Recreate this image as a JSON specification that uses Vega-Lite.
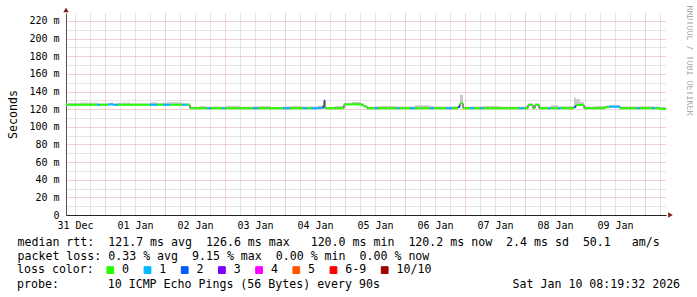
{
  "$schema": "https://vega.github.io/schema/vega-lite/v6.json",
  "width": 600,
  "height": 202,
  "padding": {"left": 7, "top": 5, "right": 0, "bottom": 0},
  "background": "white",
  "config": {"view": {"stroke": null}, "font": "DejaVu Sans Mono"},
  "title": {
    "text": "probe:\u00a0\u00a0\u00a0\u00a0\u00a0\u00a0\u00a010 ICMP Echo Pings (56 Bytes) every 90s\u00a0\u00a0\u00a0\u00a0\u00a0\u00a0\u00a0\u00a0\u00a0\u00a0\u00a0\u00a0\u00a0\u00a0\u00a0\u00a0\u00a0\u00a0\u00a0Sat Jan 10 08:19:32 2026",
    "orient": "bottom", "anchor": "start", "frame": "group", "dx": -49, "offset": 3,
    "font": "DejaVu Sans Mono", "fontSize": 11.6, "fontWeight": "normal", "color": "#000000", "baseline": "top"
  },
  "datasets": {
    "ping": [
      {"t":"2025-12-31T08:24","t2":"2025-12-31T14:00","med":0.1250,"hi":0.1268,"loss":"0"},
      {"t":"2025-12-31T14:00","t2":"2025-12-31T20:48","med":0.1250,"hi":0.1275,"loss":"0"},
      {"t":"2025-12-31T20:48","t2":"2025-12-31T22:00","med":0.1250,"hi":0.1265,"loss":"1"},
      {"t":"2025-12-31T22:00","t2":"2026-01-01T01:12","med":0.1250,"hi":0.1265,"loss":"0"},
      {"t":"2026-01-01T01:12","t2":"2026-01-01T02:24","med":0.1253,"hi":0.1270,"loss":"1"},
      {"t":"2026-01-01T02:24","t2":"2026-01-01T03:12","med":0.1256,"hi":0.1275,"loss":"1"},
      {"t":"2026-01-01T03:12","t2":"2026-01-01T05:12","med":0.1250,"hi":0.1265,"loss":"1"},
      {"t":"2026-01-01T05:12","t2":"2026-01-01T10:00","med":0.1250,"hi":0.1275,"loss":"0"},
      {"t":"2026-01-01T10:00","t2":"2026-01-01T18:00","med":0.1250,"hi":0.1265,"loss":"0"},
      {"t":"2026-01-01T18:00","t2":"2026-01-01T20:48","med":0.1250,"hi":0.1278,"loss":"1"},
      {"t":"2026-01-01T20:48","t2":"2026-01-01T23:12","med":0.1250,"hi":0.1270,"loss":"0"},
      {"t":"2026-01-01T23:12","t2":"2026-01-02T02:00","med":0.1250,"hi":0.1275,"loss":"1"},
      {"t":"2026-01-02T02:00","t2":"2026-01-02T06:48","med":0.1250,"hi":0.1278,"loss":"0"},
      {"t":"2026-01-02T06:48","t2":"2026-01-02T08:48","med":0.1250,"hi":0.1268,"loss":"1"},
      {"t":"2026-01-02T08:48","t2":"2026-01-02T10:00","med":0.1250,"hi":0.1265,"loss":"0"},
      {"t":"2026-01-02T10:00","t2":"2026-01-02T14:00","med":0.1210,"hi":0.1228,"loss":"0"},
      {"t":"2026-01-02T14:00","t2":"2026-01-02T16:48","med":0.1210,"hi":0.1235,"loss":"0"},
      {"t":"2026-01-02T16:48","t2":"2026-01-02T18:24","med":0.1210,"hi":0.1225,"loss":"1"},
      {"t":"2026-01-02T18:24","t2":"2026-01-02T22:48","med":0.1210,"hi":0.1230,"loss":"0"},
      {"t":"2026-01-02T22:48","t2":"2026-01-03T00:00","med":0.1210,"hi":0.1225,"loss":"1"},
      {"t":"2026-01-03T00:00","t2":"2026-01-03T06:00","med":0.1210,"hi":0.1238,"loss":"0"},
      {"t":"2026-01-03T06:00","t2":"2026-01-03T11:12","med":0.1210,"hi":0.1228,"loss":"0"},
      {"t":"2026-01-03T11:12","t2":"2026-01-03T13:12","med":0.1210,"hi":0.1230,"loss":"1"},
      {"t":"2026-01-03T13:12","t2":"2026-01-03T18:00","med":0.1210,"hi":0.1235,"loss":"0"},
      {"t":"2026-01-03T18:00","t2":"2026-01-03T23:12","med":0.1210,"hi":0.1225,"loss":"0"},
      {"t":"2026-01-03T23:12","t2":"2026-01-04T02:00","med":0.1210,"hi":0.1230,"loss":"1"},
      {"t":"2026-01-04T02:00","t2":"2026-01-04T07:12","med":0.1210,"hi":0.1235,"loss":"0"},
      {"t":"2026-01-04T07:12","t2":"2026-01-04T08:48","med":0.1210,"hi":0.1228,"loss":"1"},
      {"t":"2026-01-04T08:48","t2":"2026-01-04T10:24","med":0.1210,"hi":0.1230,"loss":"0"},
      {"t":"2026-01-04T10:24","t2":"2026-01-04T13:12","med":0.1210,"hi":0.1230,"loss":"1"},
      {"t":"2026-01-04T13:12","t2":"2026-01-04T14:48","med":0.1214,"hi":0.1240,"loss":"1"},
      {"t":"2026-01-04T14:48","t2":"2026-01-04T15:36","med":0.1220,"hi":0.1250,"loss":"2"},
      {"t":"2026-01-04T15:36","t2":"2026-01-04T16:00","med":0.1295,"hi":0.1310,"loss":"2"},
      {"t":"2026-01-04T16:00","t2":"2026-01-04T20:00","med":0.1210,"hi":0.1225,"loss":"0"},
      {"t":"2026-01-04T20:00","t2":"2026-01-04T23:36","med":0.1210,"hi":0.1235,"loss":"0"},
      {"t":"2026-01-04T23:36","t2":"2026-01-05T02:48","med":0.1253,"hi":0.1272,"loss":"0"},
      {"t":"2026-01-05T02:48","t2":"2026-01-05T06:24","med":0.1255,"hi":0.1280,"loss":"0"},
      {"t":"2026-01-05T06:24","t2":"2026-01-05T07:36","med":0.1245,"hi":0.1268,"loss":"0"},
      {"t":"2026-01-05T07:36","t2":"2026-01-05T08:48","med":0.1230,"hi":0.1245,"loss":"0"},
      {"t":"2026-01-05T08:48","t2":"2026-01-05T12:00","med":0.1210,"hi":0.1228,"loss":"0"},
      {"t":"2026-01-05T12:00","t2":"2026-01-05T13:12","med":0.1210,"hi":0.1230,"loss":"1"},
      {"t":"2026-01-05T13:12","t2":"2026-01-05T20:48","med":0.1210,"hi":0.1235,"loss":"0"},
      {"t":"2026-01-05T20:48","t2":"2026-01-05T22:00","med":0.1210,"hi":0.1228,"loss":"1"},
      {"t":"2026-01-05T22:00","t2":"2026-01-06T02:00","med":0.1210,"hi":0.1230,"loss":"0"},
      {"t":"2026-01-06T02:00","t2":"2026-01-06T04:00","med":0.1210,"hi":0.1230,"loss":"1"},
      {"t":"2026-01-06T04:00","t2":"2026-01-06T10:00","med":0.1210,"hi":0.1245,"loss":"0"},
      {"t":"2026-01-06T10:00","t2":"2026-01-06T11:36","med":0.1210,"hi":0.1235,"loss":"1"},
      {"t":"2026-01-06T11:36","t2":"2026-01-06T16:24","med":0.1210,"hi":0.1230,"loss":"0"},
      {"t":"2026-01-06T16:24","t2":"2026-01-06T18:48","med":0.1210,"hi":0.1228,"loss":"1"},
      {"t":"2026-01-06T18:48","t2":"2026-01-06T21:12","med":0.1210,"hi":0.1233,"loss":"0"},
      {"t":"2026-01-06T21:12","t2":"2026-01-06T22:00","med":0.1225,"hi":0.1250,"loss":"2"},
      {"t":"2026-01-06T22:00","t2":"2026-01-06T23:12","med":0.1265,"hi":0.1360,"loss":"0"},
      {"t":"2026-01-06T23:12","t2":"2026-01-07T02:00","med":0.1210,"hi":0.1228,"loss":"0"},
      {"t":"2026-01-07T02:00","t2":"2026-01-07T03:36","med":0.1210,"hi":0.1228,"loss":"1"},
      {"t":"2026-01-07T03:36","t2":"2026-01-07T06:00","med":0.1210,"hi":0.1230,"loss":"0"},
      {"t":"2026-01-07T06:00","t2":"2026-01-07T07:12","med":0.1210,"hi":0.1230,"loss":"1"},
      {"t":"2026-01-07T07:12","t2":"2026-01-07T14:00","med":0.1210,"hi":0.1235,"loss":"0"},
      {"t":"2026-01-07T14:00","t2":"2026-01-07T21:36","med":0.1210,"hi":0.1228,"loss":"0"},
      {"t":"2026-01-07T21:36","t2":"2026-01-07T23:36","med":0.1210,"hi":0.1228,"loss":"1"},
      {"t":"2026-01-07T23:36","t2":"2026-01-08T01:12","med":0.1210,"hi":0.1232,"loss":"0"},
      {"t":"2026-01-08T01:12","t2":"2026-01-08T03:12","med":0.1248,"hi":0.1265,"loss":"0"},
      {"t":"2026-01-08T03:12","t2":"2026-01-08T04:00","med":0.1210,"hi":0.1225,"loss":"0"},
      {"t":"2026-01-08T04:00","t2":"2026-01-08T05:36","med":0.1248,"hi":0.1268,"loss":"0"},
      {"t":"2026-01-08T05:36","t2":"2026-01-08T09:12","med":0.1210,"hi":0.1230,"loss":"0"},
      {"t":"2026-01-08T09:12","t2":"2026-01-08T10:24","med":0.1210,"hi":0.1228,"loss":"1"},
      {"t":"2026-01-08T10:24","t2":"2026-01-08T13:12","med":0.1210,"hi":0.1245,"loss":"0"},
      {"t":"2026-01-08T13:12","t2":"2026-01-08T14:24","med":0.1210,"hi":0.1230,"loss":"1"},
      {"t":"2026-01-08T14:24","t2":"2026-01-08T19:36","med":0.1210,"hi":0.1233,"loss":"0"},
      {"t":"2026-01-08T19:36","t2":"2026-01-08T20:24","med":0.1225,"hi":0.1330,"loss":"2"},
      {"t":"2026-01-08T20:24","t2":"2026-01-08T22:00","med":0.1247,"hi":0.1315,"loss":"0"},
      {"t":"2026-01-08T22:00","t2":"2026-01-08T23:36","med":0.1247,"hi":0.1280,"loss":"0"},
      {"t":"2026-01-08T23:36","t2":"2026-01-09T04:00","med":0.1210,"hi":0.1230,"loss":"0"},
      {"t":"2026-01-09T04:00","t2":"2026-01-09T08:00","med":0.1210,"hi":0.1235,"loss":"0"},
      {"t":"2026-01-09T08:00","t2":"2026-01-09T09:36","med":0.1223,"hi":0.1240,"loss":"0"},
      {"t":"2026-01-09T09:36","t2":"2026-01-09T14:00","med":0.1228,"hi":0.1245,"loss":"1"},
      {"t":"2026-01-09T14:00","t2":"2026-01-09T20:48","med":0.1210,"hi":0.1230,"loss":"0"},
      {"t":"2026-01-09T20:48","t2":"2026-01-09T22:00","med":0.1210,"hi":0.1228,"loss":"1"},
      {"t":"2026-01-09T22:00","t2":"2026-01-10T02:48","med":0.1210,"hi":0.1233,"loss":"0"},
      {"t":"2026-01-10T02:48","t2":"2026-01-10T04:00","med":0.1210,"hi":0.1230,"loss":"1"},
      {"t":"2026-01-10T04:00","t2":"2026-01-10T06:00","med":0.1210,"hi":0.1227,"loss":"0"},
      {"t":"2026-01-10T06:00","t2":"2026-01-10T08:24","med":0.1203,"hi":0.1225,"loss":"0"},
      {"t":"2026-01-10T08:24","t2":"2026-01-10T08:24","med":0.1203,"hi":0.1203,"loss":"0"}
    ]
  },
  "layer": [
    {
      "data": {"name": "ping"},
      "mark": {"type": "rect", "color": "#c8c8c8"},
      "encoding": {
        "x": {
          "field": "t", "type": "temporal",
          "scale": {"domain": [{"year": 2025, "month": 12, "date": 31, "hours": 8, "minutes": 24}, {"year": 2026, "month": 1, "date": 10, "hours": 8, "minutes": 24}]},
          "axis": {
            "orient": "bottom",
            "values": [
              {"year": 2025, "month": 12, "date": 31, "hours": 12}, {"year": 2025, "month": 12, "date": 31, "hours": 18},
              {"year": 2026, "month": 1, "date": 1, "hours": 6}, {"year": 2026, "month": 1, "date": 1, "hours": 12}, {"year": 2026, "month": 1, "date": 1, "hours": 18},
              {"year": 2026, "month": 1, "date": 2, "hours": 6}, {"year": 2026, "month": 1, "date": 2, "hours": 12}, {"year": 2026, "month": 1, "date": 2, "hours": 18},
              {"year": 2026, "month": 1, "date": 3, "hours": 6}, {"year": 2026, "month": 1, "date": 3, "hours": 12}, {"year": 2026, "month": 1, "date": 3, "hours": 18},
              {"year": 2026, "month": 1, "date": 4, "hours": 6}, {"year": 2026, "month": 1, "date": 4, "hours": 12}, {"year": 2026, "month": 1, "date": 4, "hours": 18},
              {"year": 2026, "month": 1, "date": 5, "hours": 6}, {"year": 2026, "month": 1, "date": 5, "hours": 12}, {"year": 2026, "month": 1, "date": 5, "hours": 18},
              {"year": 2026, "month": 1, "date": 6, "hours": 6}, {"year": 2026, "month": 1, "date": 6, "hours": 12}, {"year": 2026, "month": 1, "date": 6, "hours": 18},
              {"year": 2026, "month": 1, "date": 7, "hours": 6}, {"year": 2026, "month": 1, "date": 7, "hours": 12}, {"year": 2026, "month": 1, "date": 7, "hours": 18},
              {"year": 2026, "month": 1, "date": 8, "hours": 6}, {"year": 2026, "month": 1, "date": 8, "hours": 12}, {"year": 2026, "month": 1, "date": 8, "hours": 18},
              {"year": 2026, "month": 1, "date": 9, "hours": 6}, {"year": 2026, "month": 1, "date": 9, "hours": 12}, {"year": 2026, "month": 1, "date": 9, "hours": 18},
              {"year": 2026, "month": 1, "date": 10, "hours": 6}
            ],
            "grid": true, "gridColor": "#c8c8c8", "gridDash": [1, 1], "labels": false, "ticks": false, "domain": false, "title": null
          }
        },
        "x2": {"field": "t2"},
        "y": {
          "field": "med", "type": "quantitative",
          "scale": {"domain": [0, 0.229], "nice": false, "zero": true},
          "axis": {"orient": "left", "values": [0.01, 0.03, 0.05, 0.07, 0.09, 0.11, 0.13, 0.15, 0.17, 0.19, 0.21], "grid": true, "gridColor": "#c8c8c8", "gridDash": [1, 1], "labels": false, "ticks": false, "domain": false, "title": null}
        },
        "y2": {"field": "hi"}
      }
    },
    {
      "data": {"name": "ping"},
      "mark": {"type": "line", "interpolate": "step-after", "color": "#202020", "strokeWidth": 1},
      "encoding": {
        "x": {
          "field": "t", "type": "temporal",
          "axis": {
            "orient": "bottom",
            "values": [
              {"year": 2026, "month": 1, "date": 1}, {"year": 2026, "month": 1, "date": 2}, {"year": 2026, "month": 1, "date": 3},
              {"year": 2026, "month": 1, "date": 4}, {"year": 2026, "month": 1, "date": 5}, {"year": 2026, "month": 1, "date": 6},
              {"year": 2026, "month": 1, "date": 7}, {"year": 2026, "month": 1, "date": 8}, {"year": 2026, "month": 1, "date": 9},
              {"year": 2026, "month": 1, "date": 10}
            ],
            "grid": true, "gridColor": "#e0a0a0", "gridDash": [1, 1], "labels": false, "ticks": false, "domain": false, "title": null
          }
        },
        "y": {
          "field": "med", "type": "quantitative",
          "axis": {
            "orient": "left",
            "values": [0, 0.02, 0.04, 0.06, 0.08, 0.1, 0.12, 0.14, 0.16, 0.18, 0.2, 0.22],
            "grid": true, "gridColor": "#e0a0a0", "gridDash": [1, 1],
            "ticks": false, "domain": true, "domainColor": "#555555",
            "labelExpr": "datum.value == 0 ? '0\u00a0\u00a0' : format(datum.value * 1000, 'd') + ' m'",
            "labelFont": "DejaVu Sans Mono", "labelFontSize": 10, "labelColor": "#000000", "labelPadding": 7, "labelOverlap": false,
            "title": "Seconds", "titleFont": "DejaVu Sans Mono", "titleFontSize": 11.6, "titleFontWeight": "normal", "titleColor": "#000000",
            "titleX": -50, "titleY": 101, "titleAngle": 270, "titleAlign": "center", "titleBaseline": "alphabetic"
          }
        }
      }
    },
    {
      "data": {"name": "ping"},
      "mark": {"type": "rule", "strokeWidth": 2},
      "encoding": {
        "x": {
          "field": "t", "type": "temporal",
          "axis": {
            "orient": "bottom",
            "values": [
              {"year": 2025, "month": 12, "date": 31, "hours": 12},
              {"year": 2026, "month": 1, "date": 1, "hours": 12},
              {"year": 2026, "month": 1, "date": 2, "hours": 12},
              {"year": 2026, "month": 1, "date": 3, "hours": 12},
              {"year": 2026, "month": 1, "date": 4, "hours": 12},
              {"year": 2026, "month": 1, "date": 5, "hours": 12},
              {"year": 2026, "month": 1, "date": 6, "hours": 12},
              {"year": 2026, "month": 1, "date": 7, "hours": 12},
              {"year": 2026, "month": 1, "date": 8, "hours": 12},
              {"year": 2026, "month": 1, "date": 9, "hours": 12}
            ],
            "format": "%d %b", "grid": false, "ticks": false, "domain": true, "domainColor": "#222222",
            "labelFont": "DejaVu Sans Mono", "labelFontSize": 10, "labelColor": "#000000", "labelPadding": 5, "labelOverlap": false, "labelFlush": false,
            "title": [
              "median rtt:\u00a0\u00a0121.7 ms avg\u00a0\u00a0126.6 ms max\u00a0\u00a0\u00a0120.0 ms min\u00a0\u00a0120.2 ms now\u00a0\u00a02.4 ms sd\u00a0\u00a050.1\u00a0\u00a0\u00a0am/s",
              "packet loss: 0.33 % avg\u00a0\u00a09.15 % max\u00a0\u00a00.00 % min\u00a0\u00a00.00 % now"
            ],
            "titleFont": "DejaVu Sans Mono", "titleFontSize": 11.6, "titleFontWeight": "normal", "titleColor": "#000000",
            "titleLineHeight": 14, "titleX": -49, "titleY": 21, "titleAlign": "left", "titleBaseline": "top"
          }
        },
        "x2": {"field": "t2"},
        "y": {
          "field": "med", "type": "quantitative",
          "axis": {
            "orient": "right", "grid": false, "labels": false, "ticks": false, "domain": false,
            "title": "RRDTOOL / TOBI OETIKER", "titleFont": "DejaVu Sans Mono", "titleFontSize": 8.3, "titleFontWeight": "normal", "titleColor": "#aaaaaa",
            "titleAngle": 90, "titleX": 22, "titleY": -8, "titleAlign": "left", "titleBaseline": "middle"
          }
        },
        "color": {
          "field": "loss", "type": "nominal",
          "scale": {"domain": ["0", "1", "2", "3", "4", "5", "6-9", "10/10"], "range": ["#26ff00", "#00b8ff", "#0059ff", "#7e00ff", "#ff00ff", "#ff5500", "#ff0000", "#a10000"]},
          "legend": {
            "title": "loss color:", "orient": "none", "legendX": -49, "legendY": 251, "direction": "horizontal", "padding": 0,
            "titleOrient": "left", "titleFont": "DejaVu Sans Mono", "titleFontSize": 11.6, "titleFontWeight": "normal", "titleColor": "#000000", "titlePadding": 10.5,
            "labelFont": "DejaVu Sans Mono", "labelFontSize": 11.6, "labelColor": "#000000", "labelOffset": 6,
            "columnPadding": 12.2, "symbolType": "square", "symbolSize": 46, "symbolStrokeColor": "#000000", "symbolStrokeWidth": 1,
            "encode": {"symbols": {"update": {"fill": {"scale": "color", "field": "value"}, "stroke": {"value": "#000000"}, "strokeWidth": {"value": 1}, "opacity": {"value": 1}, "fillOpacity": {"value": 1}}}}
          }
        }
      }
    },
    {
      "data": {"values": [{}]},
      "mark": {"type": "point", "shape": "triangle-up", "filled": true, "size": 28, "color": "#7f1f1f", "opacity": 1},
      "encoding": {
        "x": {"datum": {"year": 2025, "month": 12, "date": 31, "hours": 8, "minutes": 24}, "type": "temporal", "axis": null},
        "y": {"datum": 0.2325, "type": "quantitative", "axis": null}
      }
    },
    {
      "data": {"values": [{}]},
      "mark": {"type": "point", "shape": "triangle-right", "filled": true, "size": 28, "color": "#7f1f1f", "opacity": 1},
      "encoding": {
        "x": {"datum": {"year": 2026, "month": 1, "date": 10, "hours": 10, "minutes": 12}, "type": "temporal", "axis": null},
        "y": {"datum": 0, "type": "quantitative", "axis": null}
      }
    }
  ],
  "resolve": {"axis": {"x": "independent", "y": "independent"}}
}
